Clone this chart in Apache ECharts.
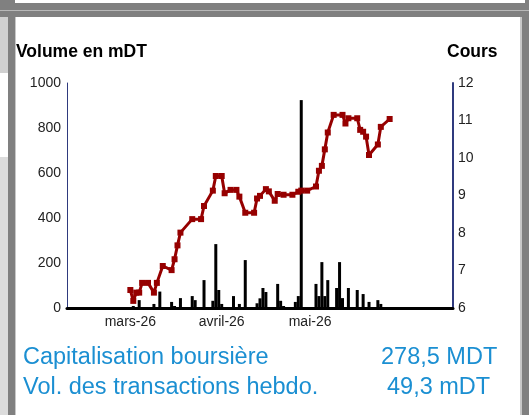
<!DOCTYPE html>
<html>
<head>
<meta charset="utf-8">
<script src="https://cdn.jsdelivr.net/npm/echarts@6/dist/echarts.min.js"></script>
<style>
  html, body { margin: 0; padding: 0; background: #fff; }
  #chart { width: 529px; height: 415px; }
</style>
</head>
<body>
<div id="chart"></div>
<script>
// axe des dates (jours calendaires)
const startDate = '2026-02-08'
const endDate = '2026-06-18'
const monthLabels = { '2026-03-01': 'mars-26', '2026-04-01': 'avril-26', '2026-05-01': 'mai-26' }

// cours
const priceDates = [
  '2026-03-01', '2026-03-02', '2026-03-03', '2026-03-04', '2026-03-05', '2026-03-07',
  '2026-03-09', '2026-03-10', '2026-03-12', '2026-03-15', '2026-03-16', '2026-03-17',
  '2026-03-18', '2026-03-22', '2026-03-25', '2026-03-26', '2026-03-29', '2026-03-30',
  '2026-04-01', '2026-04-02', '2026-04-04', '2026-04-06', '2026-04-07', '2026-04-09',
  '2026-04-12', '2026-04-13', '2026-04-14', '2026-04-16', '2026-04-17', '2026-04-19',
  '2026-04-20', '2026-04-22', '2026-04-25', '2026-04-27', '2026-04-28', '2026-04-30',
  '2026-05-03', '2026-05-04', '2026-05-05', '2026-05-06', '2026-05-07', '2026-05-09',
  '2026-05-12', '2026-05-13', '2026-05-14', '2026-05-17', '2026-05-18', '2026-05-19',
  '2026-05-20', '2026-05-21', '2026-05-24', '2026-05-25', '2026-05-28'
]
const priceValues = [
  6.48, 6.19, 6.41, 6.41, 6.67, 6.67,
  6.41, 6.67, 7.12, 7.01, 7.30, 7.67,
  8.01, 8.37, 8.37, 8.72, 9.13, 9.52,
  9.52, 9.06, 9.15, 9.15, 8.97, 8.54,
  8.54, 8.92, 8.99, 9.17, 9.11, 8.86,
  9.04, 9.02, 9.02, 9.10, 9.13, 9.13,
  9.24, 9.66, 9.79, 10.23, 10.68, 11.15,
  11.15, 10.92, 11.06, 11.06, 10.75, 10.70,
  10.57, 10.08, 10.36, 10.83, 11.04
]

// volume en mDT
const volumeDates = [
  '2026-03-02', '2026-03-04', '2026-03-09', '2026-03-11', '2026-03-15', '2026-03-16',
  '2026-03-18', '2026-03-22', '2026-03-23', '2026-03-26', '2026-03-29', '2026-03-30',
  '2026-03-31', '2026-04-01', '2026-04-05', '2026-04-07', '2026-04-09', '2026-04-13',
  '2026-04-14', '2026-04-15', '2026-04-16', '2026-04-20', '2026-04-21', '2026-04-22',
  '2026-04-26', '2026-04-27', '2026-04-28', '2026-05-03', '2026-05-04', '2026-05-05',
  '2026-05-06', '2026-05-07', '2026-05-10', '2026-05-11', '2026-05-12', '2026-05-14',
  '2026-05-17', '2026-05-19', '2026-05-21', '2026-05-24', '2026-05-25'
]
const volumeValues = [
  9, 35, 18, 73, 27, 9,
  44, 53, 35, 124, 32, 284,
  80, 18, 53, 18, 213, 21,
  43, 89, 71, 107, 32, 9,
  27, 53, 924, 107, 53, 204,
  53, 124, 89, 204, 44, 89,
  80, 62, 27, 35, 18
]

const leftTicks = [0, 1000, 200]
const rightTicks = [6, 12, 1]

// construction des catégories
const days = []
const d = new Date(startDate + 'T00:00:00Z')
const dEnd = new Date(endDate + 'T00:00:00Z')
while (d <= dEnd) {
  days.push(d.toISOString().slice(0, 10))
  d.setUTCDate(d.getUTCDate() + 1)
}
const volByDay = days.map(function (k) {
  const i = volumeDates.indexOf(k)
  return i >= 0 ? volumeValues[i] : null
})
const priceByDay = days.map(function (k) {
  const i = priceDates.indexOf(k)
  return i >= 0 ? priceValues[i] : null
})

const blue = '#1b8fd2'
const axisBlue = '#2f3a7e'
const font = '"Liberation Sans", Arial, sans-serif'

const chart = echarts.init(document.getElementById('chart'), null, { renderer: 'canvas' })
chart.setOption({
  animation: false,
  backgroundColor: '#ffffff',
  grid: { left: 67, right: 76, top: 83, bottom: 107, containLabel: false },
  xAxis: {
    type: 'category',
    data: days,
    boundaryGap: true,
    axisLine: { lineStyle: { color: '#000', width: 3 } },
    axisTick: { show: false },
    axisLabel: {
      interval: function (idx, val) { return !!monthLabels[val] },
      formatter: function (val) { return monthLabels[val] || '' },
      color: '#222', fontSize: 14, fontFamily: font, margin: 7
    },
    splitLine: { show: false }
  },
  yAxis: [{
    type: 'value',
    min: leftTicks[0], max: leftTicks[1], interval: leftTicks[2],
    position: 'left',
    axisLine: { show: true, lineStyle: { color: axisBlue, width: 1 } },
    axisTick: { show: false },
    splitLine: { show: false },
    axisLabel: { color: '#222', fontSize: 14, fontFamily: font, margin: 6, formatter: function (v) { return String(v) } }
  }, {
    type: 'value',
    min: rightTicks[0], max: rightTicks[1], interval: rightTicks[2],
    position: 'right',
    axisLine: { show: true, lineStyle: { color: axisBlue, width: 2 } },
    axisTick: { show: false },
    splitLine: { show: false },
    axisLabel: { color: '#222', fontSize: 14, fontFamily: font, margin: 5 }
  }],
  series: [{
    type: 'bar',
    data: volByDay,
    yAxisIndex: 0,
    barWidth: 3,
    itemStyle: { color: '#000' },
    z: 2
  }, {
    type: 'line',
    data: priceByDay,
    yAxisIndex: 1,
    connectNulls: true,
    showAllSymbol: true,
    symbol: 'rect',
    symbolSize: 6,
    lineStyle: { color: '#960000', width: 3 },
    itemStyle: { color: '#960000' },
    z: 3
  }],
  graphic: [
    // cadre gris autour de la carte
    { type: 'rect', left: 0, top: 0, shape: { width: 529, height: 17 }, style: { fill: '#808080' }, silent: true },
    { type: 'rect', left: 15, top: 0, shape: { width: 510, height: 3 }, style: { fill: '#ffffff' }, silent: true },
    { type: 'rect', left: 0, top: 10, shape: { width: 529, height: 1 }, style: { fill: '#b8b8b8' }, silent: true },
    { type: 'rect', left: 0, top: 17, shape: { width: 15, height: 398 }, style: { fill: '#808080' }, silent: true },
    { type: 'rect', left: 0, top: 17, shape: { width: 8, height: 56 }, style: { fill: '#d0d0d0' }, silent: true },
    { type: 'rect', left: 0, top: 73, shape: { width: 8, height: 84 }, style: { fill: '#ffffff' }, silent: true },
    { type: 'rect', left: 0, top: 157, shape: { width: 8, height: 258 }, style: { fill: '#dcdcdc' }, silent: true },
    { type: 'rect', left: 15, top: 17, shape: { width: 1, height: 398 }, style: { fill: '#c8c8c8' }, silent: true },
    { type: 'rect', left: 521, top: 17, shape: { width: 8, height: 398 }, style: { fill: '#808080' }, silent: true },
    { type: 'rect', left: 520, top: 17, shape: { width: 2, height: 398 }, style: { fill: '#c8c8c8' }, silent: true },
    // titres des axes
    { type: 'text', left: 16, top: 43, style: { text: 'Volume en mDT', fill: '#000', font: 'bold 17.5px ' + font } },
    { type: 'text', left: 447, top: 43, style: { text: 'Cours', fill: '#000', font: 'bold 17.5px ' + font } },
    // chiffres clés
    { type: 'text', left: 23, top: 346, style: { text: 'Capitalisation boursière', fill: blue, font: '23.5px ' + font } },
    { type: 'text', left: 381, top: 346, style: { text: '278,5 MDT', fill: blue, font: '23.5px ' + font } },
    { type: 'text', left: 23, top: 376, style: { text: 'Vol. des transactions hebdo.', fill: blue, font: '23.5px ' + font } },
    { type: 'text', left: 387, top: 376, style: { text: '49,3 mDT', fill: blue, font: '23.5px ' + font } }
  ]
})
</script>
</body>
</html>
